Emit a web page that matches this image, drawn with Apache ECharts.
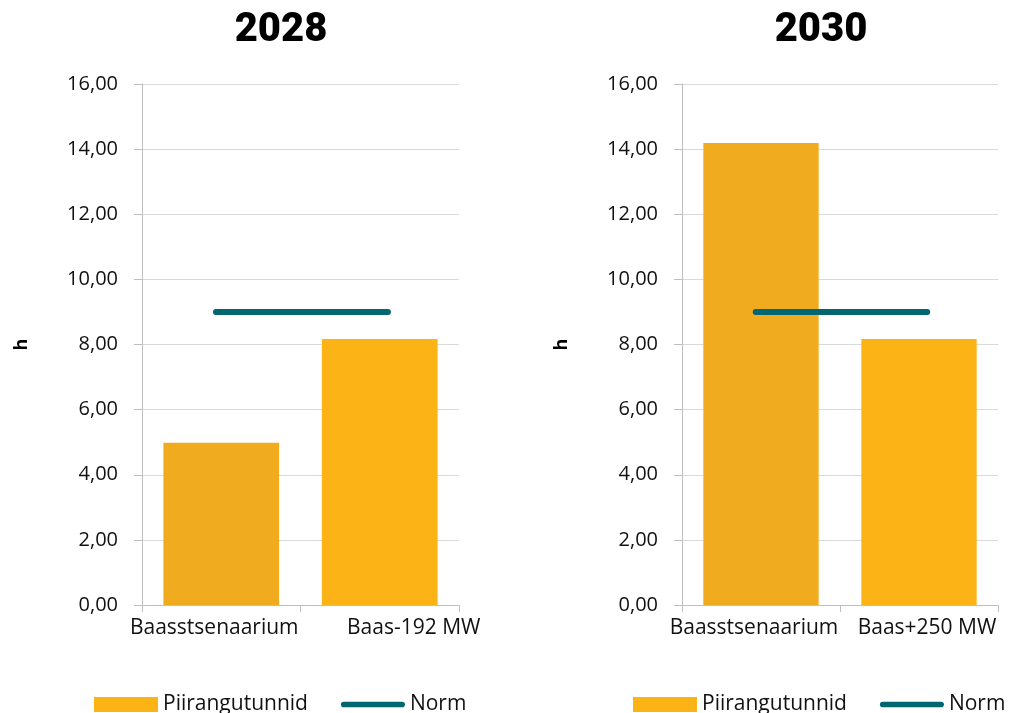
<!DOCTYPE html>
<html><head><meta charset="utf-8">
<script src="https://cdn.jsdelivr.net/npm/echarts@6/dist/echarts.min.js"></script>
<style>html,body{margin:0;padding:0;background:#fff}#c{width:1015px;height:713px}</style>
</head><body><div id="c"></div>
<script>
const titles = ['2028', '2030'];
const categories2028 = ['Baasstsenaarium', 'Baas-192 MW'];
const categories2030 = ['Baasstsenaarium', 'Baas+250 MW'];
const hours2028 = [4.98, 8.17];
const hours2030 = [14.19, 8.17];
const norm2028 = [9, 9];
const norm2030 = [9, 9];
const yTicks = [0, 2, 4, 6, 8, 10, 12, 14, 16];

const barColors = ['#F0AB1F', '#FCB316'];
const normColor = '#00666F';
const font = 'Open Sans';
const labelPads = [
  [[0, 14, 0, 0], [0, 0, 0, 68]],
  [[0, 14, 0, 0], [0, 0, 0, 16]]
];

const grids = [
  {left: 142, right: 556, top: 84, bottom: 108, outerBoundsMode: 'none'},
  {left: 682, right: 17, top: 84, bottom: 108, outerBoundsMode: 'none'}
];
const cats = [categories2028, categories2030];
const hours = [hours2028, hours2030];
const norms = [norm2028, norm2030];

const xAxes = [], yAxes = [], series = [], legends = [], titleOpts = [];
grids.forEach((g, i) => {
  xAxes.push({
    type: 'category', gridIndex: i,
    data: cats[i].map((c, k) => ({value: c, textStyle: {padding: labelPads[i][k]}})),
    axisLine: {lineStyle: {color: '#BFBFBF', width: 1}},
    axisTick: {show: true, length: 7, lineStyle: {color: '#BFBFBF'}},
    axisLabel: {color: '#111', fontFamily: font, fontSize: 21, margin: 13, interval: 0}
  });
  // hidden value axis used to place the norm line ends
  xAxes.push({
    type: 'value', gridIndex: i, min: -0.43, max: 1.413, show: false,
    splitLine: {show: false}
  });
  yAxes.push({
    type: 'value', gridIndex: i, min: 0, max: 16, interval: 2,
    name: 'h', nameLocation: 'middle', nameGap: 111, nameRotate: 90,
    nameTextStyle: {fontFamily: font, fontWeight: 'bold', fontSize: 18, color: '#000'},
    axisLine: {show: true, onZero: false, lineStyle: {color: '#BFBFBF'}},
    axisTick: {show: true, length: 8, lineStyle: {color: '#BFBFBF'}},
    splitLine: {lineStyle: {color: '#D9D9D9', width: 1}},
    axisLabel: {color: '#111', fontFamily: font, fontSize: 20, margin: 24,
      formatter: v => yTicks.includes(v) ? v.toFixed(2).replace('.', ',') : ''}
  });
  series.push({
    name: 'Piirangutunnid', type: 'bar', xAxisIndex: i * 2, yAxisIndex: i,
    barCategoryGap: '27%',
    itemStyle: {color: '#FCB316'},
    data: hours[i].map((v, k) => ({value: v, itemStyle: {color: barColors[k]}}))
  });
  series.push({
    name: 'Norm', type: 'line', xAxisIndex: i * 2 + 1, yAxisIndex: i,
    symbol: 'none', lineStyle: {color: normColor, width: 6, cap: 'round'},
    itemStyle: {color: normColor},
    data: norms[i].map((v, k) => [k, v])
  });
  legends.push({
    left: i === 0 ? 89 : 628, top: 689, itemGap: 33, itemWidth: 64, itemHeight: 15,
    textStyle: {fontFamily: font, fontSize: 21, color: '#111'},
    data: [{name: 'Piirangutunnid', icon: 'rect', itemStyle: {color: '#FCB316'}},
           {name: 'Norm', icon: 'path://M3,0 H65 A3,3 0 0 1 65,6 H3 A3,3 0 0 1 3,0 Z',
            itemStyle: {color: normColor}}]
  });
  titleOpts.push({
    text: titles[i], left: i === 0 ? 276 : 816, textAlign: 'center', top: 6,
    textStyle: {fontFamily: 'Roboto', fontWeight: 900, fontSize: 40, color: '#000'}
  });
});

const chart = echarts.init(document.getElementById('c'));
chart.setOption({
  animation: false,
  title: titleOpts,
  grid: grids,
  xAxis: xAxes,
  yAxis: yAxes,
  legend: legends,
  series: series
});
</script>
</body></html>
